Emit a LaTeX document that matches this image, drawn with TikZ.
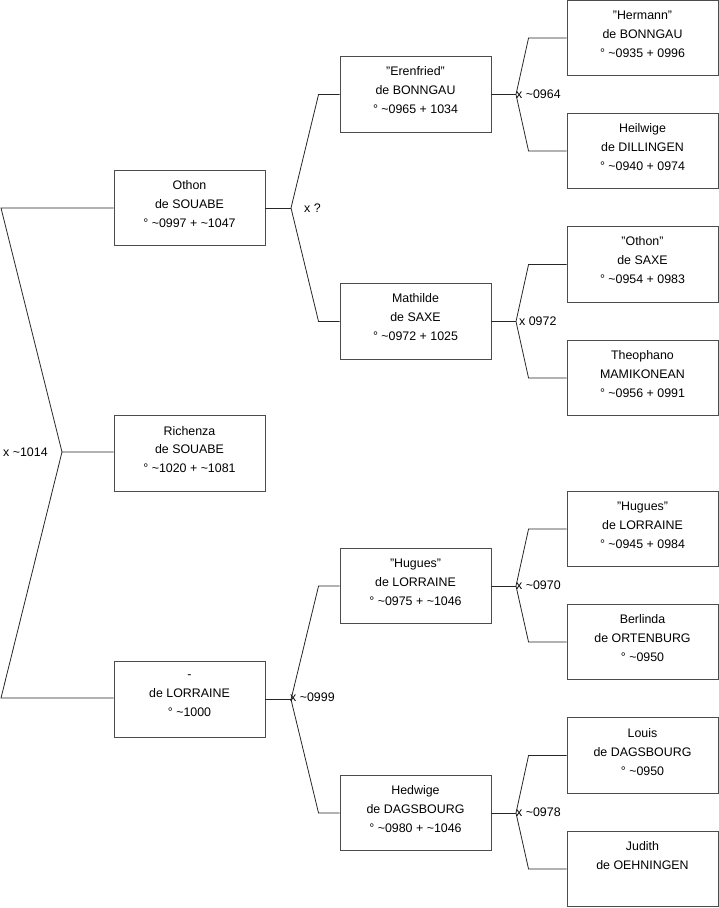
\documentclass[tikz,border=0pt]{standalone}
\usepackage{fontspec}
\setmainfont{Liberation Sans}
\newcommand{\qq}{\char34\relax}
\newcommand{\lift}{\rule[-8pt]{0pt}{8pt}}
\begin{document}
\begin{tikzpicture}[x=1pt,y=-1pt,
 person/.style={draw=black!70, line width=0.9pt, minimum width=151pt, minimum height=75.5pt, align=center, font=\fontsize{12.4}{19}\selectfont, inner sep=0pt},
 link/.style={line width=0.8pt, draw=black!85},
 lbl/.style={anchor=west, font=\fontsize{12.4}{15}\selectfont, inner sep=0pt}]
\useasboundingbox (0,0) rectangle (719,908);
% column 1
\node[person] (othon) at (189.5,208) {Othon\\de SOUABE\\° \textasciitilde0997 + \textasciitilde1047\lift};
\node[person] (richenza) at (189.5,453.5) {Richenza\\de SOUABE\\° \textasciitilde1020 + \textasciitilde1081\lift};
\node[person] (lorraine) at (189.5,699.5) {-\\de LORRAINE\\° \textasciitilde1000\lift};
% column 2
\node[person] (erenfried) at (415.5,94.5) {\qq Erenfried\qq\\de BONNGAU\\° \textasciitilde0965 + 1034\lift};
\node[person] (mathilde) at (415.5,321.5) {Mathilde\\de SAXE\\° \textasciitilde0972 + 1025\lift};
\node[person] (hugues) at (415.5,586) {\qq Hugues\qq\\de LORRAINE\\° \textasciitilde0975 + \textasciitilde1046\lift};
\node[person] (hedwige) at (415.5,813) {Hedwige\\de DAGSBOURG\\° \textasciitilde0980 + \textasciitilde1046\lift};
% column 3
\node[person] (hermann) at (642.5,38) {\qq Hermann\qq\\de BONNGAU\\° \textasciitilde0935 + 0996\lift};
\node[person] (heilwige) at (642.5,151) {Heilwige\\de DILLINGEN\\° \textasciitilde0940 + 0974\lift};
\node[person] (othonsaxe) at (642.5,264.5) {\qq Othon\qq\\de SAXE\\° \textasciitilde0954 + 0983\lift};
\node[person] (theophano) at (642.5,378) {Theophano\\MAMIKONEAN\\° \textasciitilde0956 + 0991\lift};
\node[person] (huguesl) at (642.5,529) {\qq Hugues\qq\\de LORRAINE\\° \textasciitilde0945 + 0984\lift};
\node[person] (berlinda) at (642.5,642) {Berlinda\\de ORTENBURG\\° \textasciitilde0950\lift};
\node[person] (louis) at (642.5,755.5) {Louis\\de DAGSBOURG\\° \textasciitilde0950\lift};
\node[person] (judith) at (642.5,869) {Judith\\de OEHNINGEN\\\lift};

% root fork
\coordinate (r1) at (1,208);
\coordinate (r0) at (62,452);
\coordinate (r2) at (1,698);
\draw[link] (othon.west) -- (r1) -- (r0) -- (richenza.west |- r0);
\draw[link] (r0) -- (r2) -- (lorraine.west |- r2);
\node[lbl] (l0) at (3,452) {x \textasciitilde1014};

% generic forks
\newcommand{\forkpair}[6]{% parent, father, mother, forkx, name, offset
  \coordinate (#5) at (#4, 0 |- #1.east);
  \coordinate (#5a) at ([xshift=-#6pt]#2.west);
  \coordinate (#5b) at ([xshift=-#6pt]#3.west);
  \draw[link] (#1.east) -- (#5);
  \draw[link] (#2.west) -- (#5a) -- (#5) -- (#5b) -- (#3.west);
}
\forkpair{othon}{erenfried}{mathilde}{291}{fa}{21}
\forkpair{lorraine}{hugues}{hedwige}{291}{fb}{21}
\forkpair{erenfried}{hermann}{heilwige}{516}{fc}{38}
\forkpair{mathilde}{othonsaxe}{theophano}{516}{fd}{38}
\forkpair{hugues}{huguesl}{berlinda}{516}{fe}{38}
\forkpair{hedwige}{louis}{judith}{516}{ff}{38}

\node[lbl] (la) at (304,208) {x ?};
\node[lbl] (lb) at (290,697) {x \textasciitilde0999};
\node[lbl] (lc) at (516,94) {x \textasciitilde0964};
\node[lbl] (ld) at (519,321) {x 0972};
\node[lbl] (le) at (516,585) {x \textasciitilde0970};
\node[lbl] (lf) at (516,812) {x \textasciitilde0978};
\end{tikzpicture}
\end{document}
